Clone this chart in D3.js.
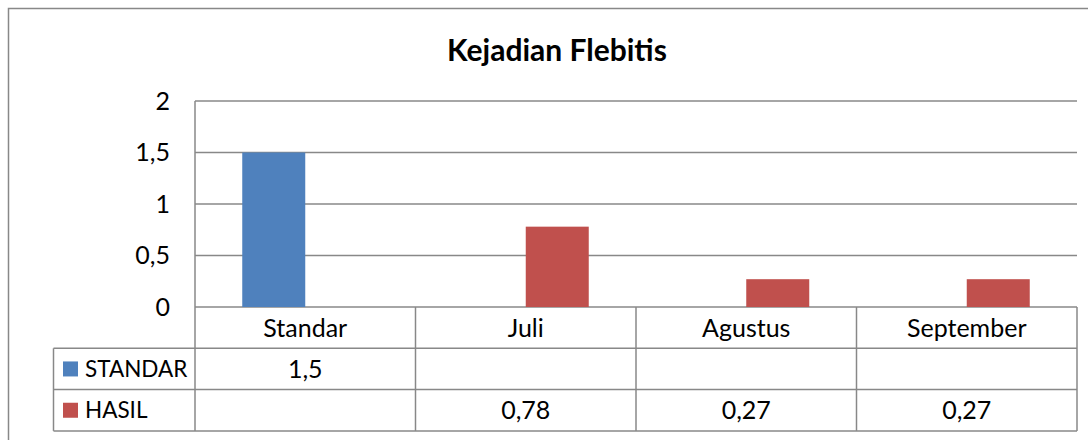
<!DOCTYPE html>
<html>
<head>
<meta charset="utf-8">
<script src="https://cdn.jsdelivr.net/npm/d3@7"></script>
<style>
  body { margin: 0; background: #fff; }
  svg { display: block; font-family: Lato, "Open Sans", sans-serif; }
</style>
</head>
<body>
<svg id="chart"></svg>
<script>
// data
var categories = ["Standar", "Juli", "Agustus", "September"]
var seriesNames = ["STANDAR", "HASIL"]
var standarValues = [1.5, null, null, null]
var hasilValues = [null, 0.78, 0.27, 0.27]
var yTicks = [0, 0.5, 1, 1.5, 2]
var colors = ["#4F81BD", "#C0504D"]

var dimensions = {
    width: 1088,
    height: 440,
    plot: { left: 195, right: 1077, top: 101, bottom: 307 },
    rowHeight: 41.3,
    legendLeft: 53.5
}

var svg = d3.select("#chart")
    .attr("width", dimensions.width)
    .attr("height", dimensions.height)

var grey = "#888888"
var locale = d3.formatLocale({decimal: ",", thousands: ".", grouping: [3], currency: ["", ""]})
var fmt = locale.format("~g")

// outer chart frame (right and bottom run past the picture)
svg.append("rect")
    .attr("x", 8.5).attr("y", 8.5)
    .attr("width", 1100).attr("height", 460)
    .attr("fill", "none")
    .attr("stroke", grey)
    .attr("stroke-width", 1.5)

svg.append("text")
    .attr("x", 557).attr("y", 61)
    .attr("text-anchor", "middle")
    .style("font-size", "30px")
    .style("font-weight", "bold")
    .text("Kejadian Flebitis")

var xScale = d3.scaleBand()
    .domain(categories)
    .range([dimensions.plot.left, dimensions.plot.right])

// two series inside each category, gap width 150%
var xInner = d3.scaleBand()
    .domain(seriesNames)
    .range([0, xScale.bandwidth()])
    .paddingInner(0)
    .paddingOuter(0.75)

var yScale = d3.scaleLinear()
    .domain([0, 2])
    .range([dimensions.plot.bottom, dimensions.plot.top])

// gridlines
svg.append("g")
    .selectAll("line")
    .data(yTicks)
    .enter()
    .append("line")
    .attr("x1", dimensions.plot.left)
    .attr("x2", dimensions.plot.right)
    .attr("y1", d => yScale(d))
    .attr("y2", d => yScale(d))
    .attr("stroke", grey)
    .attr("stroke-width", 1.5)

var yAxis = svg.append("g")
    .attr("transform", `translate(${dimensions.plot.left},0)`)
    .call(d3.axisLeft(yScale).tickValues(yTicks).tickFormat(fmt).tickSize(0).tickPadding(25))
yAxis.select(".domain").remove()
yAxis.selectAll("text")
    .style("font-size", "25px")
    .style("font-family", "Lato, 'Open Sans', sans-serif")
    .attr("fill", "#000")

// bars
var seriesData = [standarValues, hasilValues]
seriesData.forEach(function(values, s){
    var bars = values.map((v, i) => ({cat: categories[i], value: v})).filter(d => d.value != null)
    svg.append("g")
        .selectAll("rect")
        .data(bars)
        .enter()
        .append("rect")
        .attr("x", d => xScale(d.cat) + xInner(seriesNames[s]))
        .attr("width", xInner.bandwidth())
        .attr("y", d => yScale(d.value))
        .attr("height", d => yScale(0) - yScale(d.value))
        .attr("fill", colors[s])
})

// data table under the plot
var rh = dimensions.rowHeight
var tableTop = dimensions.plot.bottom
var tableBottom = tableTop + 3 * rh
var table = svg.append("g")

// left border of plot, down through the table
table.append("line")
    .attr("x1", dimensions.plot.left).attr("x2", dimensions.plot.left)
    .attr("y1", dimensions.plot.top).attr("y2", tableBottom)
    .attr("stroke", grey).attr("stroke-width", 1.5)

// column dividers + right border
categories.forEach(function(c, i){
    var x = xScale(c) + xScale.bandwidth()
    table.append("line")
        .attr("x1", x).attr("x2", x)
        .attr("y1", tableTop).attr("y2", tableBottom)
        .attr("stroke", grey).attr("stroke-width", 1.5)
})

// legend column left border
table.append("line")
    .attr("x1", dimensions.legendLeft).attr("x2", dimensions.legendLeft)
    .attr("y1", tableTop + rh).attr("y2", tableBottom)
    .attr("stroke", grey).attr("stroke-width", 1.5)

// row lines
for (var r = 1; r <= 3; r++) {
    table.append("line")
        .attr("x1", dimensions.legendLeft).attr("x2", dimensions.plot.right)
        .attr("y1", tableTop + r * rh).attr("y2", tableTop + r * rh)
        .attr("stroke", grey).attr("stroke-width", 1.5)
}

// header row: category names
table.selectAll(".cat")
    .data(categories)
    .enter()
    .append("text")
    .attr("x", d => xScale(d) + xScale.bandwidth() / 2)
    .attr("y", tableTop + rh / 2)
    .attr("dy", "0.36em")
    .attr("text-anchor", "middle")
    .style("font-size", "25px")
    .text(d => d)

seriesData.forEach(function(values, s){
    var cy = tableTop + (s + 1.5) * rh
    table.append("rect")
        .attr("x", 63).attr("y", cy - 7.5)
        .attr("width", 15).attr("height", 15)
        .attr("fill", colors[s])
    table.append("text")
        .attr("x", 85).attr("y", cy)
        .attr("dy", "0.36em")
        .style("font-size", "22.5px")
        .text(seriesNames[s])
    table.selectAll(".v" + s)
        .data(values.map((v, i) => ({cat: categories[i], value: v})).filter(d => d.value != null))
        .enter()
        .append("text")
        .attr("x", d => xScale(d.cat) + xScale.bandwidth() / 2)
        .attr("y", cy)
        .attr("dy", "0.36em")
        .attr("text-anchor", "middle")
        .style("font-size", "25px")
        .text(d => fmt(d.value))
})
</script>
</body>
</html>
